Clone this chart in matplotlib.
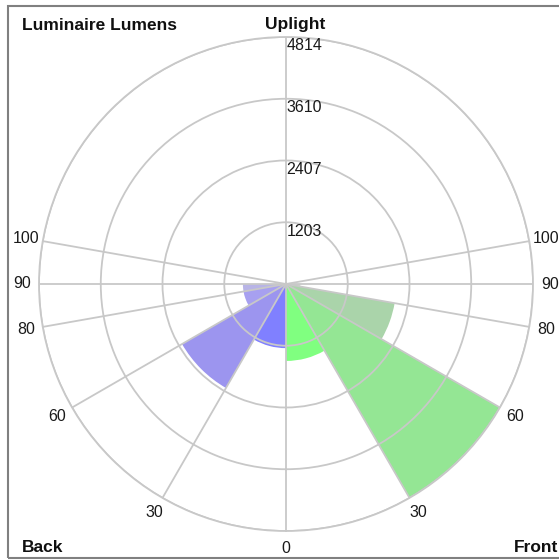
import numpy as np
import matplotlib.pyplot as plt
from matplotlib.patches import Rectangle

# zonal lumens
zone_edges = [0, 30, 60, 80, 90]           # degrees from nadir
front_lumens = [1500, 4814, 2150, 280]     # FL, FM, FH, FVH
back_lumens = [1250, 2340, 840, 840]       # BL, BM, BH, BVH
front_colors = ['#80ff80', '#94e694', '#aad4aa', '#c8dcc8']
back_colors = ['#8080ff', '#9c95ef', '#a7a0f0', '#b8b4e6']
up_edges = [90, 100, 180]
up_lumens = [20, 10]                        # UL, UH
up_color = '#d0d0d0'

ring_values = [1203, 2407, 3610, 4814]
grid_angles = [0, 30, 60, 80, 90, 100]

W, H = 559, 560
fig = plt.figure(figsize=(W / 100, H / 100), dpi=100)
plt.rcParams['font.family'] = ['Liberation Sans', 'DejaVu Sans']

cx, cy, R = 286, 284, 247
ax = fig.add_axes([(cx - R) / W, (H - cy - R) / H, 2 * R / W, 2 * R / H],
                  projection='polar')
ax.set_theta_zero_location('S')
ax.set_theta_direction(1)

# front (right) and back (left) bars
for i in range(len(front_lumens)):
    a0, a1 = np.deg2rad(zone_edges[i]), np.deg2rad(zone_edges[i + 1])
    ax.bar((a0 + a1) / 2, front_lumens[i], width=a1 - a0, color=front_colors[i],
           edgecolor='none', zorder=1)
    ax.bar(-(a0 + a1) / 2, back_lumens[i], width=a1 - a0, color=back_colors[i],
           edgecolor='none', zorder=1)
for i in range(len(up_lumens)):
    a0, a1 = np.deg2rad(up_edges[i]), np.deg2rad(up_edges[i + 1])
    for s in (1, -1):
        ax.bar(s * (a0 + a1) / 2, up_lumens[i], width=a1 - a0, color=up_color,
               edgecolor='none', zorder=1)

ax.set_ylim(0, ring_values[-1])
all_angles = sorted(set(grid_angles + [180] + [360 - a for a in grid_angles if a > 0]))
ax.set_thetagrids(all_angles, [''] * len(all_angles))
ax.set_rgrids(ring_values, [''] * len(ring_values))
ax.set_axisbelow(False)
ax.grid(True, color='#c8c8c8', lw=1.3)
ax.spines['polar'].set_color('#c8c8c8')
ax.spines['polar'].set_linewidth(1.3)
ax.tick_params(length=0)

# ring labels along the uplight axis
for v in ring_values:
    ax.annotate(str(v), xy=(np.pi, v), xytext=(0.5, -1), textcoords='offset points',
                ha='left', va='top', fontsize=11.5, color='#1a1a1a')

# angle labels on both sides
for a in grid_angles:
    sides = [a] if a == 0 else [a, 360 - a]
    for s in sides:
        ax.text(np.deg2rad(s), ring_values[-1] * 1.07, str(a), ha='center',
                va='center', fontsize=11.5, color='#1a1a1a', clip_on=False)

bold = dict(fontsize=12.5, fontweight='bold', color='#101010', va='center')
fig.text(22 / W, 1 - 25 / H, 'Luminaire Lumens', ha='left', **bold)
fig.text(295 / W, 1 - 25 / H, 'Uplight', ha='center', **bold)
fig.text(22 / W, 1 - 547 / H, 'Back', ha='left', **bold)
fig.text(558 / W, 1 - 547 / H, 'Front', ha='right', **bold)

fig.add_artist(Rectangle((8 / W, 1 - 558 / H), 1.0, 552 / H, transform=fig.transFigure,
                         fill=False, edgecolor='#808080', lw=1.5))

fig.savefig('out.png', dpi=100)
